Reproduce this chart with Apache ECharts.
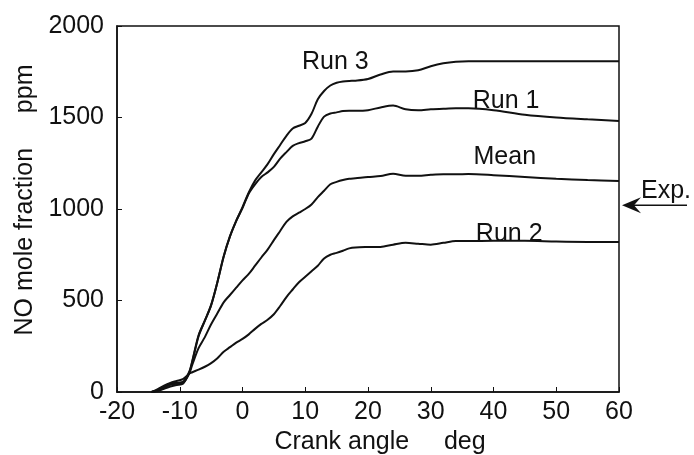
<!DOCTYPE html>
<html>
<head>
<meta charset="utf-8">
<script src="https://cdn.jsdelivr.net/npm/echarts@6/dist/echarts.min.js"></script>
<style>html,body{margin:0;padding:0;background:#fff}#c{width:694px;height:455px}</style>
</head>
<body>
<div id="c"></div>
<script>
// Crank angle (deg)
const angles = [-14.5,-13.5,-12.5,-11.5,-10.5,-9.5,-8.5,-8,-7,-6,-5,-4,-3,-2,-1,0,1,2,3,4,5,6,7,8,9,10,11,12,13,14,15,16,17,18,20,22,24,26,28,30,32,34,36,40,45,50,55,60];
// NO mole fraction (ppm)
const run3 = [0,12,30,45,50,55,110,170,310,390,475,600,740,850,935,1010,1090,1155,1200,1245,1300,1350,1400,1440,1455,1470,1520,1600,1645,1675,1690,1697,1700,1701,1710,1735,1752,1752,1758,1780,1796,1805,1808,1808,1808,1808,1808,1808];
const run1 = [0,5,18,30,38,45,105,165,305,390,475,600,740,850,935,1005,1085,1135,1175,1200,1230,1275,1311,1345,1360,1370,1385,1450,1505,1522,1528,1535,1537,1537,1540,1555,1565,1545,1540,1545,1548,1550,1550,1540,1515,1500,1490,1481];
const mean = [0,8,25,40,45,50,100,150,240,300,370,430,490,530,570,610,645,690,735,778,830,880,930,960,980,1000,1025,1065,1100,1135,1148,1158,1165,1168,1175,1180,1192,1182,1182,1187,1190,1190,1191,1185,1175,1165,1158,1153];
const run2 = [0,15,35,50,60,70,100,108,122,138,158,185,220,245,270,290,315,345,372,395,425,470,519,560,600,630,660,690,730,750,760,772,785,790,792,793,805,815,810,805,815,825,825,826,826,822,820,820];
const expValue = 1020;
// curve labels
const labelTexts = ['Run 3','Run 1','Mean','Run 2'];
const labelAngles = [14.8, 42, 41.8, 42.5];
const labelValues = [1803, 1590, 1284, 863];

const xTicks = [-20,-10,0,10,20,30,40,50,60];
const yTicks = [0,500,1000,1500,2000];

const FONT = '"Liberation Sans", Arial, Helvetica, sans-serif';
const zip = (xs, ys) => xs.map((x, i) => [x, ys[i]]);
const mk = (name, ys) => ({
  name, type: 'line', data: zip(angles, ys), showSymbol: false, symbol: 'none',
  smooth: 0.3, lineStyle: { color: '#111', width: 2 }, z: 3
});

const chart = echarts.init(document.getElementById('c'), null, { renderer: 'canvas' });
chart.setOption({
  animation: false,
  backgroundColor: '#fff',
  grid: { left: 117, right: 75, top: 26, bottom: 63, outerBoundsMode: 'none', containLabel: false, show: true, borderColor: '#111', borderWidth: 1.5, backgroundColor: 'transparent' },
  xAxis: {
    type: 'value', min: xTicks[0], max: xTicks[xTicks.length - 1], interval: 10,
    name: 'Crank angle     deg', nameLocation: 'middle', nameGap: 37,
    nameTextStyle: { fontFamily: FONT, fontSize: 25, color: '#111', padding: [0, 0, 0, 24] },
    axisLine: { onZero: false, lineStyle: { color: '#111', width: 1.5 } },
    axisTick: { inside: true, length: 5, lineStyle: { color: '#111', width: 1 } },
    axisLabel: { fontFamily: FONT, fontSize: 25, color: '#111', margin: 8, formatter: v => String(v) },
    splitLine: { show: false }
  },
  yAxis: {
    type: 'value', min: yTicks[0], max: yTicks[yTicks.length - 1], interval: 500,
    name: 'NO mole fraction     ppm', nameLocation: 'middle', nameGap: 76,
    nameTextStyle: { fontFamily: FONT, fontSize: 25, color: '#111', padding: [0, 0, 0, 18] },
    axisLine: { onZero: false, lineStyle: { color: '#111', width: 1.5 } },
    axisTick: { inside: true, length: 5, lineStyle: { color: '#111', width: 1 } },
    axisLabel: { fontFamily: FONT, fontSize: 25, color: '#111', margin: 13, formatter: v => String(v) },
    splitLine: { show: false }
  },
  series: [mk('Run 3', run3), mk('Run 1', run1), mk('Mean', mean), mk('Run 2', run2)]
});

function drawAnnotations() {
  const g = [];
  labelTexts.forEach((t, i) => {
    const p = chart.convertToPixel({ gridIndex: 0 }, [labelAngles[i], labelValues[i]]);
    g.push({ type: 'text', x: p[0], y: p[1], style: { text: t, fontFamily: FONT, fontSize: 25, fill: '#111', align: 'center', verticalAlign: 'middle' }, z: 10 });
  });
  const e = chart.convertToPixel({ gridIndex: 0 }, [60, expValue]);
  const tipX = e[0] + 3, y = e[1];
  g.push({ type: 'line', shape: { x1: tipX + 6, y1: y, x2: tipX + 65, y2: y }, style: { stroke: '#111', lineWidth: 1.5 }, z: 10 });
  g.push({ type: 'polygon', shape: { points: [[tipX, y], [tipX + 19, y - 8], [tipX + 12, y], [tipX + 19, y + 8]] }, style: { fill: '#111' }, z: 10 });
  g.push({ type: 'text', x: e[0] + 47, y: y - 14, style: { text: 'Exp.', fontFamily: FONT, fontSize: 25, fill: '#111', align: 'center', verticalAlign: 'middle' }, z: 10 });
  chart.setOption({ graphic: g });
}
drawAnnotations();
</script>
</body>
</html>
